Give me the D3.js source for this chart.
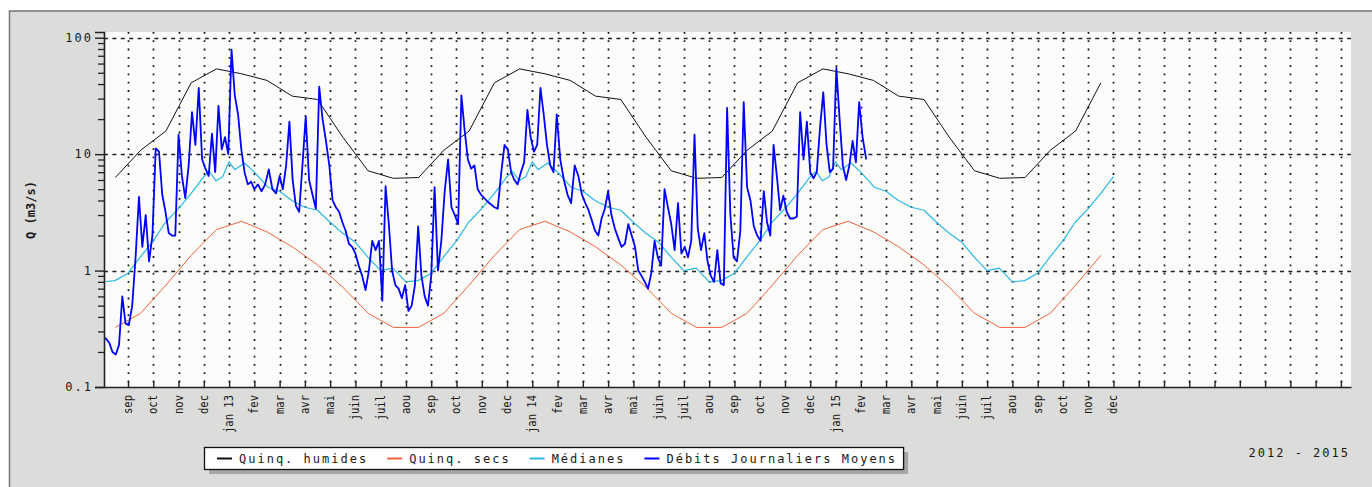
<!DOCTYPE html>
<html>
<head>
<meta charset="utf-8">
<script src="https://cdn.jsdelivr.net/npm/d3@7"></script>
<style>
  html, body { margin: 0; padding: 0; background: #fff; }
  svg { display: block; }
  text { font-family: 'DejaVu Sans Mono', monospace; fill: #1a1a1a; }
</style>
</head>
<body>
<div id="chart"></div>
<script>
// month labels, jan..dec
const monthLabels = ['jan', 'fev', 'mar', 'avr', 'mai', 'juin', 'juil', 'aou', 'sep', 'oct', 'nov', 'dec'];

// quinquennial values read at mid-month, jan..dec
const humides = [49, 43, 31.5, 29.5, 14, 7.2, 6.2, 6.3, 10.8, 15.8, 41, 54];
const secs = [2.65, 2.15, 1.6, 1.12, 0.72, 0.43, 0.325, 0.325, 0.43, 0.75, 1.35, 2.25];

// daily medians (one hydrological year, aug -> jul)
const medDays = ['08-01', '08-16', '09-01', '09-16', '10-01', '10-16', '11-01', '11-16', '12-01', '12-08',
  '12-16', '12-24', '01-01', '01-08', '01-20', '02-01', '02-16', '03-01', '03-16', '04-01', '04-16',
  '05-01', '05-16', '06-01', '06-16', '07-01', '07-16'];
const medValues = [0.80, 0.82, 0.95, 1.32, 1.8, 2.6, 3.4, 4.6, 6.4, 7.1,
  5.9, 6.4, 8.6, 7.35, 8.4, 7.0, 5.2, 4.8, 4.0, 3.5, 3.3,
  2.6, 2.1, 1.75, 1.3, 1.0, 1.05];

// daily mean flows, one value every 4 days from 2012-08-01
const debitStart = new Date(2012, 7, 1);
const debitStep = 4;
const debits = [
  0.27, 0.26, 0.24, 0.2, 0.19, 0.23, 0.6, 0.35, 0.34, 0.5,
  1.3, 4.3, 1.6, 3.0, 1.2, 2.0, 11.2, 10.5, 4.5, 3.2,
  2.1, 2.0, 2.0, 14.7, 6.5, 4.2, 8, 23, 12, 37,
  9, 7.5, 6.5, 15, 7, 26, 11, 14, 10, 79,
  32, 22, 11, 7, 5.5, 5.8, 5, 5.5, 4.8, 5.5,
  7.4, 5, 4.6, 6.5, 5, 8, 19, 6, 3.6, 3.2,
  8, 21, 6, 4.5, 3.4, 38, 20, 13, 8, 4,
  3.5, 3.2, 2.6, 2.2, 1.7, 1.6, 1.4, 1.1, 0.9, 0.68,
  1.0, 1.8, 1.5, 1.8, 0.55, 5.3, 2.5, 1.0, 0.75, 0.7,
  0.58, 0.75, 0.45, 0.5, 0.75, 2.4, 0.9, 0.6, 0.5, 0.9,
  5.2, 1.0, 1.8, 4.8, 9, 3.5, 3.0, 2.5, 32, 16,
  9, 7.5, 8, 5, 4.5, 4.2, 3.9, 3.7, 3.5, 3.4,
  6.8, 12, 11, 7, 6, 5.5, 7, 8.5, 24, 14,
  10.5, 12, 37, 22, 12, 8, 7, 22, 9, 6,
  4.5, 3.8, 8, 6.5, 4.5, 3.8, 3.3, 2.7, 2.2, 2.0,
  2.8, 3.4, 4.8, 3.0, 2.3, 1.9, 1.6, 1.7, 2.5, 2.0,
  1.6, 1.0, 0.9, 0.8, 0.7, 0.95, 1.8, 1.3, 1.1, 5,
  3.5, 2.5, 1.5, 3.8, 1.4, 1.6, 1.3, 1.8, 14.7, 2.3,
  1.5, 2.1, 1.2, 0.9, 0.8, 1.5, 0.78, 0.75, 25, 3,
  1.3, 1.2, 2.2, 28, 5.2, 4, 2.4, 2.0, 1.8, 4.8,
  2.6, 2.0, 12, 6.5, 3.3, 4.4, 3.2, 2.8, 2.8, 2.9,
  23, 9, 19, 7, 6.2, 7, 17, 34, 12, 7,
  7.5, 55, 20, 8, 6, 8, 13, 8.5, 28, 14,
  9
];

const yTicks = [0.1, 1, 10, 100];
const yearLabel = '2012 - 2015';

const series = [
  { name: 'Quinq. humides', color: '#111111', width: 1 },
  { name: 'Quinq. secs', color: '#f0623e', width: 1 },
  { name: 'Médianes', color: '#2bb8e3', width: 1.2 },
  { name: 'Débits Journaliers Moyens', color: '#0000ff', width: 1.8 },
];

const W = 1372, H = 487;
const plot = { left: 104, right: 1351, top: 32, bottom: 387 };

// month index, 0 = 1 sep 2012 (months are drawn evenly spaced)
const monthPos = (date) => {
  const yy = date.getFullYear(), mm = date.getMonth(), dd = date.getDate();
  const dim = new Date(yy, mm + 1, 0).getDate();
  return (yy - 2012) * 12 + mm - 8 + (dd - 1) / dim;
}
const monthName = (idx) => ((idx + 8) % 12 + 12) % 12;

const svg = d3.select('#chart')
  .append('svg')
  .attr('width', W)
  .attr('height', H);

// grey panel
svg.append('rect')
  .attr('x', 9.5).attr('y', 11)
  .attr('width', W + 20).attr('height', H + 20)
  .attr('fill', '#dcdcdb')
  .attr('stroke', '#7c7c7c')
  .attr('stroke-width', 1.6);

svg.append('rect')
  .attr('x', plot.left).attr('y', plot.top)
  .attr('width', plot.right - plot.left).attr('height', plot.bottom - plot.top)
  .attr('fill', '#fcfdfb');

svg.append('clipPath').attr('id', 'clip')
  .append('rect')
  .attr('x', plot.left).attr('y', plot.top)
  .attr('width', plot.right - plot.left).attr('height', plot.bottom - plot.top);

const x = d3.scaleLinear()
  .domain([-0.95, 48.4])
  .range([plot.left, plot.right]);

const y = d3.scaleLog()
  .domain([0.1, 112])
  .range([plot.bottom, plot.top]);

const monthTicks = d3.range(0, 49);

// grid
const grid = svg.append('g');
grid.selectAll('.vg').data(monthTicks).enter()
  .append('line')
  .attr('x1', d => Math.round(x(d)) + 0.5).attr('x2', d => Math.round(x(d)) + 0.5)
  .attr('y1', plot.top).attr('y2', plot.bottom)
  .attr('stroke', '#111')
  .attr('stroke-width', 1.7)
  .attr('stroke-dasharray', '1.8,6.5');

grid.selectAll('.hg').data(yTicks.slice(1)).enter()
  .append('line')
  .attr('x1', plot.left).attr('x2', plot.right)
  .attr('y1', d => Math.round(y(d)) + 0.5).attr('y2', d => Math.round(y(d)) + 0.5)
  .attr('stroke', '#222')
  .attr('stroke-width', 1.3)
  .attr('stroke-dasharray', '4,4.4');

// series data
const humPts = [], secPts = [];
for (let i = -1; i <= 38; i++) {
  humPts.push({ m: i + 0.5, v: humides[monthName(i)] });
  secPts.push({ m: i + 0.5, v: secs[monthName(i)] });
}

const medPts = [];
const medEnd = new Date(2015, 11, 1);
for (let yr = 2012; yr <= 2015; yr++) {
  medDays.forEach((md, i) => {
    const [mm, dd] = md.split('-').map(Number);
    const date = new Date(mm >= 8 ? yr : yr + 1, mm - 1, dd);
    if (date <= medEnd) medPts.push({ m: monthPos(date), v: medValues[i] });
  });
}

const debPts = debits.map((v, i) => ({ m: monthPos(d3.timeDay.offset(debitStart, i * debitStep)), v: v }));

const line = d3.line().x(d => x(d.m)).y(d => y(d.v));

const lines = svg.append('g').attr('clip-path', 'url(#clip)');
[humPts, secPts, medPts, debPts].forEach((pts, i) => {
  lines.append('path')
    .datum(pts)
    .attr('d', line)
    .attr('fill', 'none')
    .attr('stroke', series[i].color)
    .attr('stroke-width', series[i].width)
    .attr('stroke-linejoin', 'round');
});

// axes
const xAxis = d3.axisBottom(x)
  .tickValues(monthTicks)
  .tickSizeInner(-6)
  .tickSizeOuter(0)
  .tickFormat(d => {
    if (d > 39) return '';
    const n = monthName(d);
    return n === 0 ? 'jan ' + String(2012 + (d + 8) / 12).slice(2) : monthLabels[n];
  });

const xAxisGroup = svg.append('g')
  .attr('transform', `translate(0, ${plot.bottom})`)
  .call(xAxis);
xAxisGroup.select('.domain').attr('stroke', '#222').attr('stroke-width', 1.6);
xAxisGroup.selectAll('.tick line').attr('stroke', '#222').attr('stroke-width', 1.4);
xAxisGroup.selectAll('.tick text')
  .attr('x', 0).attr('y', 0).attr('dy', 0)
  .attr('transform', 'translate(3.5, 8) rotate(-90) scale(0.81, 1)')
  .attr('text-anchor', 'end')
  .attr('font-size', '13px')
  .attr('font-family', "'DejaVu Sans Mono', monospace")
  .attr('fill', '#1a1a1a');

const minorTicks = [];
[0.1, 1, 10].forEach(dec => d3.range(2, 10).forEach(k => minorTicks.push(dec * k)));

const yMinor = d3.axisLeft(y).tickValues(minorTicks).tickSize(6).tickFormat('');
const yMinorGroup = svg.append('g')
  .attr('transform', `translate(${plot.left}, 0)`)
  .call(yMinor);
yMinorGroup.select('.domain').remove();
yMinorGroup.selectAll('.tick line').attr('stroke', '#222').attr('stroke-width', 1.3);

const yAxis = d3.axisLeft(y)
  .tickValues(yTicks)
  .tickSize(9)
  .tickPadding(2)
  .tickFormat(d => String(d));
const yAxisGroup = svg.append('g')
  .attr('transform', `translate(${plot.left}, 0)`)
  .call(yAxis);
yAxisGroup.select('.domain').attr('stroke', '#222').attr('stroke-width', 1.6);
yAxisGroup.selectAll('.tick line').attr('stroke', '#222').attr('stroke-width', 1.4);
yAxisGroup.selectAll('.tick text')
  .attr('font-size', '12px')
  .attr('font-family', "'DejaVu Sans Mono', monospace")
  .attr('letter-spacing', '2px')
  .attr('fill', '#1a1a1a');

// y title
svg.append('text')
  .attr('transform', 'translate(35, 210) rotate(-90)')
  .attr('text-anchor', 'middle')
  .attr('font-size', '12px')
  .attr('font-weight', 'bold')
  .text('Q (m3/s)');

// legend
const legend = svg.append('g');
const lg = { x: 204, y: 447, h: 22 };
const shadow = legend.append('rect').attr('fill', '#a6a6a6');
const box = legend.append('rect').attr('fill', '#fff').attr('stroke', '#111').attr('stroke-width', 1.3);
let cx = lg.x + 13;
series.forEach(s => {
  legend.append('line')
    .attr('x1', cx).attr('x2', cx + 15)
    .attr('y1', lg.y + 11.5).attr('y2', lg.y + 11.5)
    .attr('stroke', s.color).attr('stroke-width', 2);
  const t = legend.append('text')
    .attr('x', cx + 22).attr('y', lg.y + 16)
    .attr('font-size', '12px')
    .attr('letter-spacing', '2px')
    .text(s.name);
  cx += 22 + t.node().getComputedTextLength() + 19;
});
const lgW = cx - 19 - lg.x + 6;
box.attr('x', lg.x + 0.5).attr('y', lg.y + 0.5).attr('width', lgW).attr('height', lg.h);
shadow.attr('x', lg.x + 5).attr('y', lg.y + 5).attr('width', lgW).attr('height', lg.h);

svg.append('text')
  .attr('x', 1350).attr('y', 457)
  .attr('text-anchor', 'end')
  .attr('font-size', '12px')
  .attr('letter-spacing', '2px')
  .text(yearLabel);
</script>
</body>
</html>
